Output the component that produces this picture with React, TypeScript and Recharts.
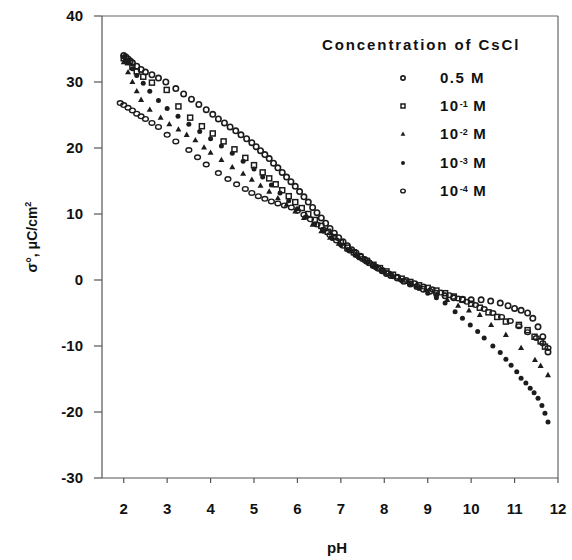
import React from 'react';
import { ScatterChart, Scatter, XAxis, YAxis, ReferenceLine, Legend, Label } from 'recharts';

const FONT = '"Liberation Sans", Arial, Helvetica, sans-serif';
const INK = '#1c1c1c';

// X (pH) and Y (surface charge) tick values
const X_TICKS = [2, 3, 4, 5, 6, 7, 8, 9, 10, 11, 12];
const Y_TICKS = [-30, -20, -10, 0, 10, 20, 30, 40];

// Legend text
const LEGEND_TITLE = 'Concentration of CsCl';
const LEGEND_BASE = ['0.5 M', '10', '10', '10', '10'];
const LEGEND_EXP = ['', '-1', '-2', '-3', '-4'];

// 0.5 M
const PH_05M = [2.0, 2.05, 2.1, 2.15, 2.2, 2.3, 2.4, 2.5, 2.65, 2.8, 2.97, 3.2, 3.38, 3.56, 3.73, 3.9, 4.05, 4.18, 4.32, 4.45, 4.58, 4.7, 4.83, 4.95, 5.05, 5.15, 5.25, 5.35, 5.45, 5.55, 5.65, 5.75, 5.85, 5.95, 6.05, 6.15, 6.25, 6.35, 6.45, 6.55, 6.65, 6.75, 6.85, 6.95, 7.05, 7.15, 7.25, 7.35, 7.45, 7.55, 7.65, 7.75, 7.85, 7.95, 8.05, 8.15, 8.3, 8.45, 8.6, 8.75, 8.9, 9.05, 9.2, 9.4, 9.6, 9.8, 10.0, 10.23, 10.45, 10.67, 10.85, 11.0, 11.15, 11.3, 11.42, 11.54, 11.65, 11.77];
const SIGMA_05M = [34.0, 33.8, 33.5, 33.2, 32.9, 32.4, 31.9, 31.5, 31.1, 30.6, 30.0, 29.0, 28.2, 27.4, 26.6, 25.8, 25.1, 24.4, 23.8, 23.2, 22.6, 22.0, 21.4, 20.8, 20.2, 19.6, 19.0, 18.4, 17.7, 17.0, 16.3, 15.6, 14.9, 14.2, 13.4, 12.6, 11.8, 11.0, 10.2, 9.4, 8.6, 7.8, 7.1, 6.4, 5.8, 5.2, 4.6, 4.1, 3.6, 3.1, 2.6, 2.2, 1.8, 1.4, 1.0, 0.7, 0.3, -0.2, -0.6, -1.0, -1.4, -1.7, -2.0, -2.4, -2.7, -2.9, -3.0, -3.0, -3.2, -3.5, -3.9, -4.3, -4.6, -5.0, -5.8, -7.1, -8.6, -10.9];

// 10^-1 M
const PH_1EM1 = [2.0, 2.1, 2.2, 2.3, 2.45, 2.65, 2.99, 3.26, 3.53, 3.8, 4.05, 4.3, 4.55, 4.8, 5.0, 5.2, 5.35, 5.5, 5.65, 5.8, 5.95, 6.1, 6.25, 6.4, 6.55, 6.7, 6.85, 7.0, 7.15, 7.3, 7.45, 7.6, 7.75, 7.9, 8.05, 8.2, 8.4, 8.6, 8.8, 9.0, 9.2, 9.4, 9.6, 9.8, 10.0, 10.2, 10.4, 10.6, 10.8, 11.1, 11.3, 11.46, 11.6, 11.7];
const SIGMA_1EM1 = [33.6, 33.0, 32.3, 31.6, 30.8, 29.9, 28.8, 26.3, 24.6, 23.3, 22.2, 21.0, 19.8, 18.5, 17.4, 16.3, 15.4, 14.5, 13.6, 12.7, 11.8, 10.9, 10.0, 9.1, 8.2, 7.3, 6.5, 5.7, 4.9, 4.2, 3.5, 2.9, 2.3, 1.8, 1.3, 0.8, 0.2, -0.3, -0.8, -1.2, -1.6, -2.0, -2.5, -3.0, -3.6, -4.2, -4.9, -5.6, -6.3, -6.8, -7.6, -8.6, -9.3, -10.1];

// 10^-2 M
const PH_1EM2 = [2.0, 2.1, 2.2, 2.3, 2.4, 2.6, 2.85, 3.05, 3.26, 3.45, 3.65, 3.85, 4.0, 4.25, 4.5, 4.75, 4.95, 5.15, 5.35, 5.55, 5.75, 5.95, 6.15, 6.35, 6.55, 6.75, 6.95, 7.15, 7.35, 7.55, 7.75, 7.95, 8.15, 8.35, 8.55, 8.75, 8.95, 9.2, 9.45, 9.7, 9.95, 10.2, 10.46, 10.8, 11.15, 11.47, 11.6, 11.77];
const SIGMA_1EM2 = [33.0, 31.5, 30.0, 28.6, 27.3, 25.8, 24.6, 23.6, 22.8, 22.0, 21.2, 20.1, 19.3, 18.2, 17.1, 16.1, 15.2, 14.3, 13.4, 12.4, 11.4, 10.4, 9.4, 8.4, 7.4, 6.4, 5.5, 4.6, 3.8, 3.0, 2.2, 1.5, 0.9, 0.3, -0.3, -0.9, -1.5, -2.2, -3.0, -3.9, -4.6, -5.3, -6.8, -8.3, -10.3, -12.1, -13.0, -14.4];

// 10^-3 M
const PH_1EM3 = [2.0, 2.05, 2.1, 2.2, 2.3, 2.45, 2.6, 2.8, 3.0, 3.25, 3.5, 3.75, 4.0, 4.25, 4.5, 4.75, 5.0, 5.2, 5.4, 5.6, 5.8, 6.0, 6.2, 6.4, 6.6, 6.8, 7.0, 7.2, 7.4, 7.6, 7.8, 8.0, 8.2, 8.4, 8.6, 8.8, 9.0, 9.2, 9.4, 9.63, 9.8, 9.98, 10.15, 10.3, 10.5, 10.67, 10.8, 10.92, 11.05, 11.15, 11.26, 11.36, 11.45, 11.54, 11.63, 11.7, 11.77];
const SIGMA_1EM3 = [33.8, 33.4, 33.0, 32.0, 31.0, 29.8, 28.6, 27.2, 26.0, 24.8, 23.6, 22.5, 21.4, 20.3, 19.2, 18.0, 16.8, 15.6, 14.4, 13.2, 12.0, 10.8, 9.6, 8.5, 7.4, 6.3, 5.3, 4.4, 3.5, 2.7, 1.9, 1.2, 0.5, -0.1, -0.7, -1.3, -2.0, -2.7, -3.5, -4.8, -5.8, -6.8, -7.8, -8.8, -10.0, -11.0, -12.0, -12.9, -13.9, -14.9, -15.6, -16.4, -17.1, -17.9, -19.0, -20.2, -21.5];

// 10^-4 M
const PH_1EM4 = [1.92, 2.0, 2.1, 2.2, 2.3, 2.4, 2.5, 2.65, 2.8, 3.0, 3.2, 3.5, 3.7, 3.9, 4.18, 4.4, 4.6, 4.8, 4.95, 5.1, 5.25, 5.4, 5.55, 5.7, 5.86, 6.0, 6.15, 6.3, 6.45, 6.6, 6.75, 6.9, 7.05, 7.2, 7.35, 7.5, 7.65, 7.8, 7.95, 8.1, 8.3, 8.5, 8.7, 8.9, 9.1, 9.3, 9.5, 9.7, 9.9, 10.1, 10.3, 10.5, 10.7, 10.9, 11.1, 11.3, 11.5, 11.65, 11.77];
const SIGMA_1EM4 = [26.8, 26.5, 26.1, 25.7, 25.2, 24.8, 24.4, 23.8, 23.2, 22.0, 21.0, 19.7, 18.6, 17.5, 16.2, 15.3, 14.5, 13.8, 13.2, 12.7, 12.3, 11.9, 11.6, 11.3, 11.0, 10.5, 9.9, 9.2, 8.4, 7.6, 6.8, 6.0, 5.2, 4.5, 3.8, 3.2, 2.6, 2.0, 1.5, 1.0, 0.5, 0.0, -0.5, -1.0, -1.4, -1.9, -2.3, -2.8, -3.3, -3.8, -4.4, -5.0, -5.6, -6.2, -7.0, -7.9, -8.8, -9.6, -10.3];

const zip = (xs: number[], ys: number[]) => {
  const n = Math.min(xs.length, ys.length);
  const out: { x: number; y: number }[] = [];
  for (let i = 0; i < n; i++) out.push({ x: xs[i], y: ys[i] });
  return out;
};

const SERIES = [
  { key: 's05', data: zip(PH_05M, SIGMA_05M), kind: 'circle' },
  { key: 's1', data: zip(PH_1EM1, SIGMA_1EM1), kind: 'square' },
  { key: 's2', data: zip(PH_1EM2, SIGMA_1EM2), kind: 'triangle' },
  { key: 's3', data: zip(PH_1EM3, SIGMA_1EM3), kind: 'dot' },
  { key: 's4', data: zip(PH_1EM4, SIGMA_1EM4), kind: 'ring' },
];

function Marker({ cx, cy, kind, small }: { cx: number; cy: number; kind: string; small?: boolean }) {
  if (cx == null || cy == null || isNaN(cx) || isNaN(cy)) return null;
  const k = small ? 0.8 : 1;
  switch (kind) {
    case 'circle':
      return <circle cx={cx} cy={cy} r={2.7 * k} fill="none" stroke={INK} strokeWidth={1.6} />;
    case 'square':
      return <rect x={cx - 2.5 * k} y={cy - 2.5 * k} width={5 * k} height={5 * k} fill="none" stroke={INK} strokeWidth={1.5} />;
    case 'triangle':
      return <path d={`M${cx},${cy - 3.2 * k} L${cx + 3 * k},${cy + 2.1 * k} L${cx - 3 * k},${cy + 2.1 * k} Z`} fill={INK} />;
    case 'dot':
      return <circle cx={cx} cy={cy} r={2.5 * k} fill={INK} />;
    default:
      return <ellipse cx={cx} cy={cy} rx={2.9 * k} ry={2.3 * k} fill="none" stroke={INK} strokeWidth={1.4} />;
  }
}

const tickStyle = { fill: '#111', fontSize: 15, fontWeight: 700, fontFamily: FONT };

const renderLegend = () => (
  <div style={{ position: 'relative', fontFamily: FONT, fontWeight: 700, color: '#111' }}>
    <div style={{ position: 'absolute', left: 322, top: 36, fontSize: 15, lineHeight: '18px', letterSpacing: 1.9, whiteSpace: 'nowrap' }}>
      {LEGEND_TITLE}
    </div>
    {SERIES.map((s, i) => {
      const cy = 78 + i * 28.2;
      return (
        <div key={s.key}>
          <svg style={{ position: 'absolute', left: 397, top: cy - 6 }} width={12} height={12}>
            <Marker cx={6} cy={6} kind={s.kind} small />
          </svg>
          <div style={{ position: 'absolute', left: 440, top: cy - 9, fontSize: 15, lineHeight: '18px', letterSpacing: 1.5, whiteSpace: 'nowrap' }}>
            {LEGEND_BASE[i]}
            {LEGEND_EXP[i] ? (
              <sup style={{ fontSize: 9, verticalAlign: 'top', position: 'relative', top: -2, letterSpacing: 0 }}>{LEGEND_EXP[i]}</sup>
            ) : null}
            {LEGEND_EXP[i] ? ' M' : ''}
          </div>
        </div>
      );
    })}
  </div>
);

export default function App() {
  return (
    <div style={{ position: 'absolute', left: 0, top: 0, width: 572, height: 560, background: '#fff' }}>
      <ScatterChart width={572} height={560} margin={{ top: 16, right: 14, bottom: 0, left: 0 }}>
        <XAxis
          type="number"
          dataKey="x"
          domain={[1.5, 12]}
          ticks={X_TICKS}
          allowDataOverflow
          height={82}
          tickSize={5}
          tickMargin={20}
          tick={tickStyle}
          axisLine={{ stroke: '#555', strokeWidth: 1.2 }}
          tickLine={{ stroke: '#555', strokeWidth: 1.2 }}
        >
          <Label
            content={() => (
              <text x={337} y={553} textAnchor="middle" fontFamily={FONT} fontWeight={700} fontSize={15} fill="#111">
                pH
              </text>
            )}
          />
        </XAxis>
        <YAxis
          type="number"
          dataKey="y"
          domain={[-30, 40]}
          ticks={Y_TICKS}
          allowDataOverflow
          width={102}
          tickSize={8}
          tickMargin={11}
          tick={tickStyle}
          axisLine={{ stroke: '#555', strokeWidth: 1.2 }}
          tickLine={{ stroke: '#555', strokeWidth: 1.2 }}
        >
          <Label
            content={() => (
              <text transform="translate(37,237) rotate(-90)" textAnchor="middle" fontFamily={FONT} fontWeight={700} fontSize={14} fill="#111">
                σ°, μC/cm
                <tspan dy={-6} fontSize={9}>2</tspan>
              </text>
            )}
          />
        </YAxis>
        <ReferenceLine y={40} stroke="#666" strokeWidth={1.2} />
        <ReferenceLine x={12} stroke="#666" strokeWidth={1.2} />
        {SERIES.map((s) => (
          <Scatter
            key={s.key}
            data={s.data}
            isAnimationActive={false}
            shape={(p: any) => <Marker cx={p.cx} cy={p.cy} kind={s.kind} />}
          />
        ))}
        <Legend
          layout="vertical"
          align="center"
          verticalAlign="middle"
          content={renderLegend}
          wrapperStyle={{ left: 0, top: 0, width: 0, height: 0 }}
        />
      </ScatterChart>
    </div>
  );
}
